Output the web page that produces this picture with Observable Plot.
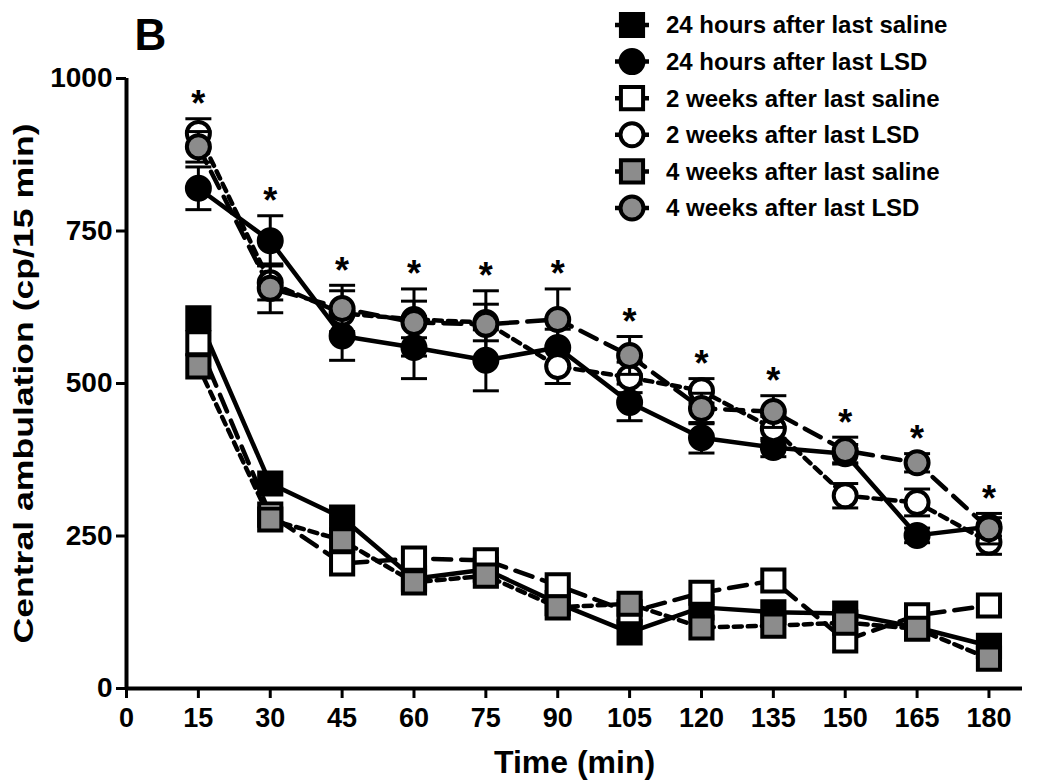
<!DOCTYPE html>
<html><head><meta charset="utf-8">
<script src="https://cdn.jsdelivr.net/npm/d3@7"></script>
<script src="https://cdn.jsdelivr.net/npm/@observablehq/plot@0.6"></script>
<style>
html,body{margin:0;padding:0;background:#fff;}
#chart{position:relative;width:1050px;height:782px;overflow:hidden;}
#chart svg{display:block;}
</style></head><body><div id="chart"></div>
<script>
// ---- data ----
const times = [15, 30, 45, 60, 75, 90, 105, 120, 135, 150, 165, 180];
const xTicks = [0, 15, 30, 45, 60, 75, 90, 105, 120, 135, 150, 165, 180];
const yTicks = [0, 250, 500, 750, 1000];
const seriesNames = [
  "24 hours after last saline",
  "24 hours after last LSD",
  "2 weeks after last saline",
  "2 weeks after last LSD",
  "4 weeks after last saline",
  "4 weeks after last LSD"
];
const sal24 = [607, 336, 280, 180, 195, 140, 92, 133, 125, 123, 100, 70];
const lsd24 = [820, 734, 578, 559, 538, 559, 469, 411, 395, 385, 251, 265];
const lsd24Sem = [35, 41, 40, 51, 50, 30, 30, 25, 15, 15, 12, 15];
const sal2w = [566, 285, 205, 213, 210, 169, 125, 157, 177, 79, 120, 136];
const lsd2w = [910, 665, 615, 605, 600, 528, 510, 488, 426, 316, 305, 240];
const lsd2wSem = [24, 28, 37, 30, 30, 28, 25, 20, 20, 20, 22, 20];
const sal4w = [528, 277, 243, 174, 185, 133, 139, 100, 103, 108, 98, 49];
const lsd4w = [888, 656, 623, 600, 597, 605, 546, 459, 454, 390, 370, 262];
const lsd4wSem = [25, 40, 38, 55, 55, 50, 31, 25, 26, 22, 15, 25];
const starTimes = [15, 30, 45, 60, 75, 90, 105, 120, 135, 150, 165, 180];
const xLabel = "Time (min)";
const yLabel = "Central ambulation (cp/15 min)";
const panelLetter = "B";

// ---- styles ----
const GRAY = "#8c8c8c";
const LONG = "18,10";
const SHORT = "8,6";
const series = [
  {name: seriesNames[0], values: sal24, sem: null, symbol: "square", fill: "black", dash: null},
  {name: seriesNames[1], values: lsd24, sem: lsd24Sem, symbol: "circle", fill: "black", dash: null},
  {name: seriesNames[2], values: sal2w, sem: null, symbol: "square", fill: "white", dash: LONG},
  {name: seriesNames[3], values: lsd2w, sem: lsd2wSem, symbol: "circle", fill: "white", dash: SHORT},
  {name: seriesNames[4], values: sal4w, sem: null, symbol: "square", fill: GRAY, dash: SHORT},
  {name: seriesNames[5], values: lsd4w, sem: lsd4wSem, symbol: "circle", fill: GRAY, dash: LONG}
];
const rowsOf = s => times.map((t, i) => ({t, v: s.values[i], sem: s.sem ? s.sem[i] : 0}));

const capSymbol = {
  draw(ctx, size) {
    const w = Math.sqrt(size / Math.PI);
    ctx.moveTo(-w, 0); ctx.lineTo(w, 0);
  }
};
const R = {square: 12.5, circle: 11.5};

// star heights: top of highest error bar among LSD groups
const lsdSeries = series.filter(s => s.sem);
const stars = starTimes.map(t => {
  const i = times.indexOf(t);
  return {t, top: d3.max(lsdSeries, s => s.values[i] + s.sem[i])};
});

const marks = [];
// lines
for (const s of series) {
  marks.push(Plot.line(rowsOf(s), {x: "t", y: "v", stroke: "black", strokeWidth: 4.5,
    strokeDasharray: s.dash || undefined, strokeLinejoin: "round"}));
}
// error bars + markers
for (const s of series) {
  const rows = rowsOf(s);
  if (s.sem) {
    marks.push(Plot.ruleX(rows, {x: "t", y1: d => d.v - d.sem, y2: d => d.v + d.sem, stroke: "black", strokeWidth: 3}));
    marks.push(Plot.dot(rows, {x: "t", y: d => d.v + d.sem, symbol: capSymbol, r: 13, fill: "none", stroke: "black", strokeWidth: 3}));
    marks.push(Plot.dot(rows, {x: "t", y: d => d.v - d.sem, symbol: capSymbol, r: 13, fill: "none", stroke: "black", strokeWidth: 3}));
  }
  marks.push(Plot.dot(rows, {x: "t", y: "v", symbol: s.symbol, r: R[s.symbol], fill: s.fill, stroke: "black", strokeWidth: 4}));
}
// stars
marks.push(Plot.text(stars, {x: "t", y: "top", text: () => "*", dy: -14, fontSize: 36, fontWeight: "bold", fill: "black"}));
// axes
marks.push(Plot.axisX({ticks: xTicks, tickSize: 10, tickPadding: 9, fontSize: 27, fontWeight: "bold", strokeWidth: 3, label: null, tickFormat: d => String(d)}));
marks.push(Plot.axisY({ticks: yTicks, tickSize: 10, tickPadding: 4, fontSize: 28, fontWeight: "bold", strokeWidth: 3, label: null, tickFormat: d => String(d)}));
marks.push(Plot.ruleY([0], {strokeWidth: 4, stroke: "black"}));
marks.push(Plot.ruleX([0], {strokeWidth: 4, stroke: "black"}));
// axis titles & panel letter
marks.push(Plot.text([xLabel], {frameAnchor: "bottom", dy: 74, fontSize: 32, fontWeight: "bold", fill: "black", lineAnchor: "middle"}));
marks.push(Plot.text([yLabel], {frameAnchor: "left", dx: -102, rotate: -90, textAnchor: "middle", lineAnchor: "middle", fontSize: 27, fontWeight: "bold", fill: "black"}));
marks.push(Plot.text([panelLetter], {frameAnchor: "top-left", dx: 8, dy: -60, fontSize: 44, fontWeight: "bold", textAnchor: "start", fill: "black"}));

const chart = Plot.plot({
  width: 1050, height: 782,
  marginLeft: 126, marginRight: 28, marginTop: 78, marginBottom: 94,
  x: {domain: [0, 187]},
  y: {domain: [0, 1000]},
  style: {fontFamily: "'Liberation Sans', Arial, sans-serif", background: "white", color: "black", overflow: "visible"},
  marks
});
document.getElementById("chart").appendChild(chart);

// stretch the y title to its length in the reference
const svg = d3.select(chart);
svg.selectAll("text").filter(function () { return this.textContent === yLabel; })
  .attr("textLength", 520).attr("lengthAdjust", "spacingAndGlyphs");

// ---- legend ----
const legend = svg.append("g").attr("transform", "translate(632,25)")
  .attr("font-family", "'Liberation Sans', Arial, sans-serif").attr("text-anchor", "start");
series.forEach((s, i) => {
  const g = legend.append("g").attr("transform", `translate(0,${i * 36.6})`);
  g.append("line").attr("x1", -17).attr("x2", 17).attr("stroke", "black").attr("stroke-width", 4.5)
    .attr("stroke-dasharray", s.dash || null);
  const r = R[s.symbol];
  const type = s.symbol === "square" ? d3.symbolSquare : d3.symbolCircle;
  g.append("path").attr("d", d3.symbol(type, r * r * Math.PI)()).attr("fill", s.fill)
    .attr("stroke", "black").attr("stroke-width", 4);
  g.append("text").attr("x", 34).attr("dy", "0.35em").attr("font-size", 24).attr("font-weight", "bold")
    .attr("text-anchor", "start").attr("fill", "black").text(s.name);
});
</script></body></html>
